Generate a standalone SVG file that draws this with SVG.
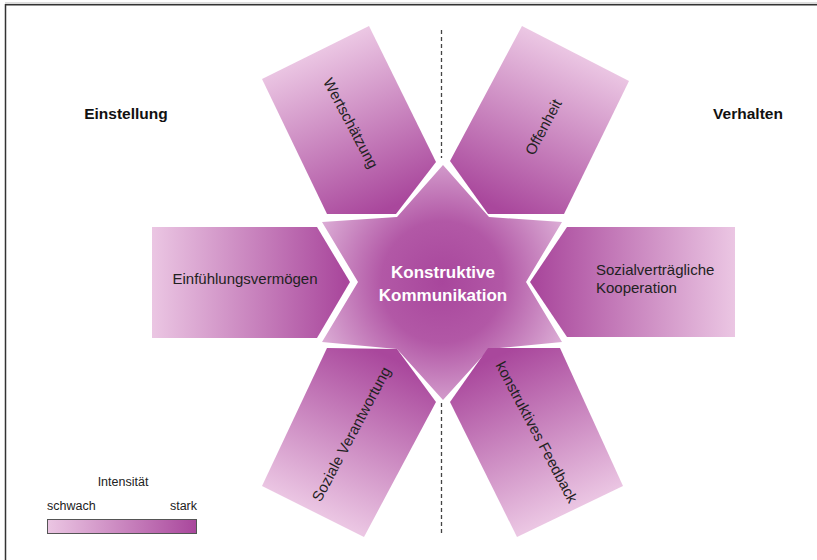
<svg xmlns="http://www.w3.org/2000/svg" width="817" height="560" viewBox="0 0 817 560">
<style>
.petal-text{font-family:"Liberation Sans",Arial,sans-serif;font-size:15px;fill:#222;}
.head{font-family:"Liberation Sans",Arial,sans-serif;font-size:15.5px;font-weight:bold;fill:#111;}
.legend{font-family:"Liberation Sans",Arial,sans-serif;font-size:12.5px;fill:#222;}
.center-text{font-family:"Liberation Sans",Arial,sans-serif;font-size:17px;font-weight:bold;fill:#fff;}
.axis{stroke:#444;stroke-width:1.3;stroke-dasharray:4 3;fill:none;}
</style>
<defs>
<radialGradient id="gStar" gradientUnits="userSpaceOnUse" cx="442" cy="282" r="135">
<stop offset="0" stop-color="#a8469c"/>
<stop offset="0.45" stop-color="#b258a6"/>
<stop offset="1" stop-color="#dcaed6"/>
</radialGradient>
<linearGradient id="gL" gradientUnits="userSpaceOnUse" x1="152" y1="0" x2="345" y2="0">
<stop offset="0" stop-color="#ebc6e3"/><stop offset="1" stop-color="#a9479c"/>
</linearGradient>
<linearGradient id="gR" gradientUnits="userSpaceOnUse" x1="735" y1="0" x2="535" y2="0">
<stop offset="0" stop-color="#ebc6e3"/><stop offset="1" stop-color="#a9479c"/>
</linearGradient>
<linearGradient id="gUL" gradientUnits="userSpaceOnUse" x1="315" y1="52" x2="385" y2="210">
<stop offset="0" stop-color="#ebc6e3"/><stop offset="1" stop-color="#a9479c"/>
</linearGradient>
<linearGradient id="gUR" gradientUnits="userSpaceOnUse" x1="575" y1="53" x2="500" y2="210">
<stop offset="0" stop-color="#ebc6e3"/><stop offset="1" stop-color="#a9479c"/>
</linearGradient>
<linearGradient id="gLL" gradientUnits="userSpaceOnUse" x1="313" y1="511" x2="385" y2="355">
<stop offset="0" stop-color="#ebc6e3"/><stop offset="1" stop-color="#a9479c"/>
</linearGradient>
<linearGradient id="gLR" gradientUnits="userSpaceOnUse" x1="570" y1="511" x2="500" y2="355">
<stop offset="0" stop-color="#ebc6e3"/><stop offset="1" stop-color="#a9479c"/>
</linearGradient>
<linearGradient id="gLeg" x1="0" y1="0" x2="1" y2="0">
<stop offset="0" stop-color="#ebc6e3"/><stop offset="1" stop-color="#a9479c"/>
</linearGradient>
</defs>
<rect width="817" height="560" fill="#fff"/>
<g id="frame">
<line x1="5" y1="3" x2="817" y2="3" stroke="#bbb" stroke-width="1"/>
<line x1="5" y1="4.8" x2="817" y2="4.8" stroke="#333" stroke-width="1.5"/>
<line x1="5.5" y1="4" x2="5.5" y2="560" stroke="#333" stroke-width="1.5"/>
</g>
<g id="connectors">
<line class="axis" x1="441.5" y1="30" x2="441.5" y2="158"/>
<line class="axis" x1="441.5" y1="403" x2="441.5" y2="535"/>
</g>
<g id="heading-einstellung"><text class="head" x="126" y="119" text-anchor="middle">Einstellung</text></g>
<g id="heading-verhalten"><text class="head" x="748" y="119" text-anchor="middle">Verhalten</text></g>
<g id="node-center">
<polygon fill="url(#gStar)" points="443,165 489,217 562,222 526,282 562,342 489,349 443,400 397,349 322,342 358,282 322,222 397,217"/>
<text class="center-text" x="443" y="278" text-anchor="middle">Konstruktive</text>
<text class="center-text" x="443" y="301" text-anchor="middle">Kommunikation</text>
</g>
<g id="node-wertschaetzung">
<polygon fill="url(#gUL)" points="369,26 262,79 327,214 396,214 436,162"/>
<text class="petal-text" text-anchor="middle" dominant-baseline="central" transform="translate(351,123) rotate(62)">Wertschätzung</text>
</g>
<g id="node-offenheit">
<polygon fill="url(#gUR)" points="522,26 629,81 564,214 488,214 450,161"/>
<text class="petal-text" text-anchor="middle" dominant-baseline="central" transform="translate(543,127) rotate(-62)">Offenheit</text>
</g>
<g id="node-einfuehlung">
<polygon fill="url(#gL)" points="152,227 317,227 350,282 317,338 152,338"/>
<text class="petal-text" x="245" y="284" text-anchor="middle">Einfühlungsvermögen</text>
</g>
<g id="node-kooperation">
<polygon fill="url(#gR)" points="735,227 567,227 530,282 567,337 735,337"/>
<text class="petal-text" x="596" y="275">Sozialverträgliche</text>
<text class="petal-text" x="596" y="293">Kooperation</text>
</g>
<g id="node-verantwortung">
<polygon fill="url(#gLL)" points="327,348 397,349 436,402 364,537 262,486"/>
<text class="petal-text" text-anchor="middle" dominant-baseline="central" transform="translate(351,434) rotate(-62)">Soziale Verantwortung</text>
</g>
<g id="node-feedback">
<polygon fill="url(#gLR)" points="488,348 560,348 623,486 517,537 450,402"/>
<text class="petal-text" text-anchor="middle" dominant-baseline="central" transform="translate(537,432) rotate(62)">konstruktives Feedback</text>
</g>
<g id="legend">
<text class="legend" x="123" y="486" text-anchor="middle">Intensität</text>
<text class="legend" x="47" y="510">schwach</text>
<text class="legend" x="197" y="510" text-anchor="end">stark</text>
<rect x="47.5" y="519.5" width="149" height="14" fill="url(#gLeg)" stroke="#555" stroke-width="1"/>
</g>
</svg>
